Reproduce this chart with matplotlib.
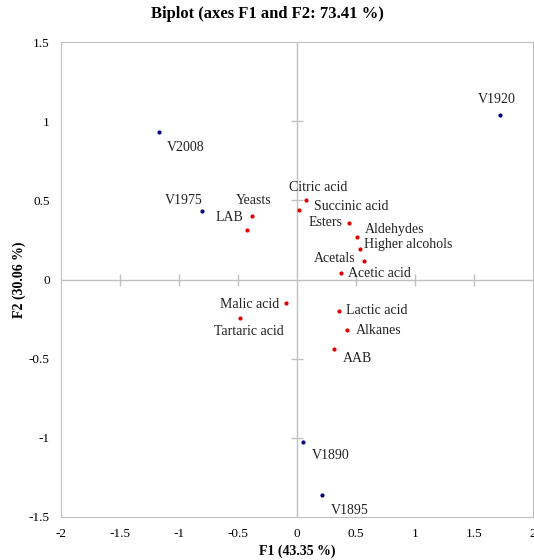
import matplotlib as mpl
import matplotlib.pyplot as plt
import numpy as np

mpl.rcParams['font.family'] = ['Liberation Serif', 'DejaVu Serif']

# observations (blue)
obs_names = ['V2008', 'V1920', 'V1975', 'V1890', 'V1895']
obs_f1 = [-1.17, 1.72, -0.805, 0.054, 0.21]
obs_f2 = [0.93, 1.04, 0.43, -1.025, -1.36]

# variables (red)
var_names = ['Yeasts', 'LAB', 'Citric acid', 'Succinic acid', 'Esters', 'Aldehydes',
             'Higher alcohols', 'Acetals', 'Acetic acid', 'Malic acid', 'Tartaric acid',
             'Lactic acid', 'Alkanes', 'AAB']
var_f1 = [-0.38, -0.42, 0.076, 0.02, 0.44, 0.51, 0.53, 0.565, 0.37, -0.096, -0.48, 0.36, 0.42, 0.31]
var_f2 = [0.40, 0.316, 0.50, 0.44, 0.36, 0.27, 0.19, 0.12, 0.044, -0.15, -0.245, -0.196, -0.32, -0.44]

# label offsets in points (dx, dy)
obs_off = [(19, -11), (-2, 11), (-13, 8), (20, -10), (20, -11)]
var_off = [(1, 11), (-13, 8.6), (9, 9), (37, 2.7), (-17, 0), (27, 5.5), (35, 3.4), (-21, 1.4), (28, -0.7),
           (-26, -0.7), (6, -9.6), (27, 0), (23, 0), (17, -6.5)]

fig = plt.figure(figsize=(5.34, 5.6), dpi=100)
ax = fig.add_axes([0.1142, 0.0768, 0.884, 0.848])

grey = '#c0c0c0'
ax.axhline(0, color=grey, lw=1, zorder=1)
ax.axvline(0, color=grey, lw=1, zorder=1)
xt = [-1.5, -1, -0.5, 0.5, 1, 1.5]
yt = [-1, -0.5, 0.5, 1]
ax.plot(xt, [0] * len(xt), ls='none', marker='|', ms=8, mew=1, color=grey, zorder=1)
ax.plot([0] * len(yt), yt, ls='none', marker='_', ms=8, mew=1, color=grey, zorder=1)

ax.scatter(obs_f1, obs_f2, s=4, color='#000080', zorder=3)
ax.scatter(var_f1, var_f2, s=4, color='#e00000', zorder=3)

for n, x, y, o in zip(obs_names, obs_f1, obs_f2, obs_off):
    ax.annotate(n, (x, y), xytext=o, textcoords='offset points', ha='center', va='center',
                fontsize=10, color='#222222')
for n, x, y, o in zip(var_names, var_f1, var_f2, var_off):
    ax.annotate(n, (x, y), xytext=o, textcoords='offset points', ha='center', va='center',
                fontsize=10, color='#222222')

ax.set_xlim(-2, 2)
ax.set_ylim(-1.5, 1.5)
ax.set_xticks([-2, -1.5, -1, -0.5, 0, 0.5, 1, 1.5, 2])
ax.set_xticklabels(['-2', '-1.5', '-1', '-0.5', '0', '0.5', '1', '1.5', '2'])
ax.set_yticks([-1.5, -1, -0.5, 0, 0.5, 1, 1.5])
ax.set_yticklabels(['-1.5', '-1', '-0.5', '0', '0.5', '1', '1.5'])
ax.tick_params(length=0, labelsize=9.5, pad=8)
for s in ax.spines.values():
    s.set_color(grey)

ax.set_xlabel('F1 (43.35 %)', fontsize=10, fontweight='bold', labelpad=3)
ax.set_ylabel('F2 (30.06 %)', fontsize=10, fontweight='bold', labelpad=2)
fig.text(0.5, 0.975, 'Biplot (axes F1 and F2: 73.41 %)', fontsize=12, fontweight='bold',
         ha='center', va='center')

plt.savefig('out.png', dpi=100)
